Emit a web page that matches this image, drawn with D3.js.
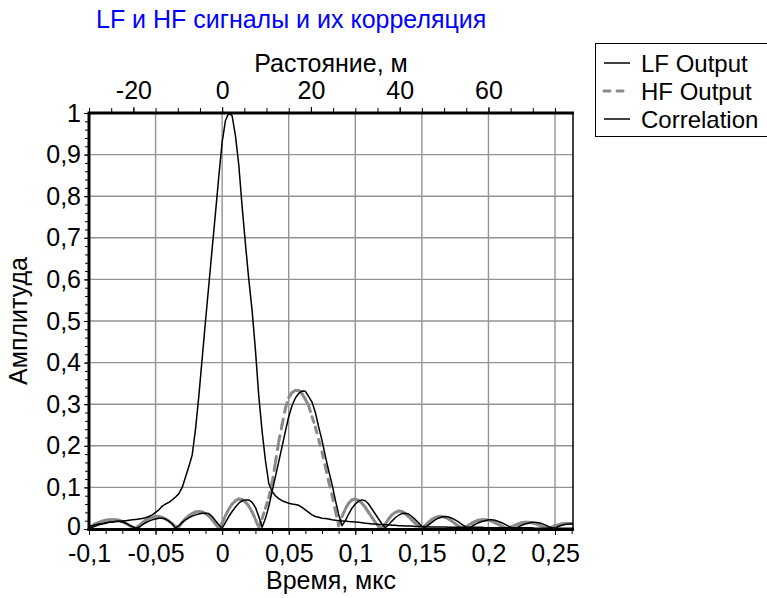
<!DOCTYPE html>
<html>
<head>
<meta charset="utf-8">
<script src="https://cdn.jsdelivr.net/npm/d3@7"></script>
<style>
  body { margin: 0; background: #fff; }
  svg { display: block; }
  text { font-family: "Liberation Sans", Arial, sans-serif; fill: #000; }
</style>
</head>
<body>
<svg id="chart" width="767" height="598"></svg>
<script>
// Sample times, microseconds
const time = [
  -0.1, -0.0975, -0.095, -0.0925, -0.09, -0.0875, -0.085, -0.0825, -0.08, -0.0775,
  -0.075, -0.0725, -0.07, -0.0675, -0.065, -0.0625, -0.06, -0.0575, -0.055, -0.0525,
  -0.05, -0.0475, -0.045, -0.0425, -0.04, -0.0375, -0.035, -0.0325, -0.03, -0.0275,
  -0.025, -0.0225, -0.02, -0.0175, -0.015, -0.0125, -0.01, -0.0075, -0.005, -0.0025,
  0, 0.0025, 0.005, 0.0075, 0.01, 0.0125, 0.015, 0.0175, 0.02, 0.0225,
  0.025, 0.0275, 0.03, 0.0325, 0.035, 0.0375, 0.04, 0.0425, 0.045, 0.0475,
  0.05, 0.0525, 0.055, 0.0575, 0.06, 0.0625, 0.065, 0.0675, 0.07, 0.0725,
  0.075, 0.0775, 0.08, 0.0825, 0.085, 0.0875, 0.09, 0.0925, 0.095, 0.0975,
  0.1, 0.1025, 0.105, 0.1075, 0.11, 0.1125, 0.115, 0.1175, 0.12, 0.1225,
  0.125, 0.1275, 0.13, 0.1325, 0.135, 0.1375, 0.14, 0.1425, 0.145, 0.1475,
  0.15, 0.1525, 0.155, 0.1575, 0.16, 0.1625, 0.165, 0.1675, 0.17, 0.1725,
  0.175, 0.1775, 0.18, 0.1825, 0.185, 0.1875, 0.19, 0.1925, 0.195, 0.1975,
  0.2, 0.2025, 0.205, 0.2075, 0.21, 0.2125, 0.215, 0.2175, 0.22, 0.2225,
  0.225, 0.2275, 0.23, 0.2325, 0.235, 0.2375, 0.24, 0.2425, 0.245, 0.2475,
  0.25, 0.2525, 0.255, 0.2575, 0.26, 0.2625, 0.265
];

const lfOutput = [
  0.006, 0.008, 0.01, 0.012, 0.013, 0.015, 0.016, 0.017, 0.018, 0.019,
  0.019, 0.02, 0.021, 0.022, 0.023, 0.024, 0.025, 0.027, 0.03, 0.034,
  0.04, 0.046, 0.055, 0.06, 0.064, 0.07, 0.077, 0.085, 0.1, 0.125,
  0.15, 0.178, 0.24, 0.32, 0.41, 0.5, 0.587, 0.674, 0.76, 0.848,
  0.93, 0.982, 1.0, 0.993, 0.945, 0.875, 0.775, 0.685, 0.6, 0.525,
  0.43, 0.32, 0.235, 0.165, 0.11, 0.09, 0.08, 0.073, 0.068, 0.065,
  0.062, 0.06, 0.059, 0.057, 0.052, 0.046, 0.04, 0.034, 0.03, 0.028,
  0.026, 0.025, 0.024, 0.022, 0.021, 0.02, 0.019, 0.019, 0.018, 0.0175,
  0.017, 0.016, 0.015, 0.014, 0.013, 0.012, 0.012, 0.011, 0.011, 0.01,
  0.01, 0.009, 0.009, 0.008, 0.008, 0.007, 0.007, 0.007, 0.006, 0.006,
  0.006, 0.006, 0.005, 0.005, 0.005, 0.005, 0.005, 0.005, 0.004, 0.004,
  0.004, 0.004, 0.004, 0.004, 0.004, 0.004, 0.004, 0.004, 0.004, 0.003,
  0.003, 0.003, 0.003, 0.003, 0.003, 0.003, 0.003, 0.003, 0.003, 0.003,
  0.003, 0.003, 0.003, 0.003, 0.002, 0.002, 0.002, 0.002, 0.002, 0.002,
  0.002, 0.002, 0.002, 0.002, 0.002, 0.002, 0.002
];

const hfOutput = [
  0.003, 0.008, 0.013, 0.016, 0.019, 0.021, 0.022, 0.022, 0.022, 0.021,
  0.018, 0.014, 0.009, 0.004, 0.002, 0.008, 0.015, 0.021, 0.025, 0.028,
  0.03, 0.03, 0.028, 0.024, 0.019, 0.013, 0.005, 0.006, 0.016, 0.025,
  0.032, 0.037, 0.041, 0.042, 0.041, 0.037, 0.031, 0.022, 0.012, 0.002,
  0.014, 0.032, 0.048, 0.06, 0.068, 0.072, 0.071, 0.065, 0.055, 0.041,
  0.023, 0.003, 0.025, 0.05, 0.075, 0.11, 0.16, 0.21, 0.25, 0.29,
  0.316, 0.328, 0.333, 0.333, 0.325, 0.312, 0.296, 0.27, 0.245, 0.215,
  0.185, 0.15, 0.115, 0.082, 0.045, 0.008, 0.03, 0.048, 0.062, 0.07,
  0.072, 0.069, 0.062, 0.052, 0.04, 0.028, 0.016, 0.006, 0.003, 0.012,
  0.024, 0.034, 0.04, 0.043, 0.042, 0.037, 0.03, 0.022, 0.014, 0.007,
  0.001, 0.008, 0.016, 0.023, 0.027, 0.03, 0.03, 0.028, 0.024, 0.019,
  0.013, 0.007, 0.002, 0.003, 0.009, 0.014, 0.018, 0.021, 0.022, 0.022,
  0.021, 0.019, 0.015, 0.011, 0.007, 0.003, 0.001, 0.005, 0.009, 0.012,
  0.015, 0.016, 0.016, 0.015, 0.013, 0.01, 0.007, 0.004, 0.001, 0.004,
  0.008, 0.01, 0.012, 0.013, 0.013, 0.013, 0.012
];

const correlation = [
  0.001, 0.004, 0.007, 0.01, 0.012, 0.014, 0.016, 0.017, 0.018, 0.018,
  0.017, 0.014, 0.01, 0.006, 0.002, 0.004, 0.01, 0.015, 0.019, 0.022,
  0.024, 0.026, 0.026, 0.024, 0.019, 0.012, 0.002, 0.008, 0.016, 0.022,
  0.027, 0.031, 0.034, 0.036, 0.038, 0.038, 0.037, 0.03, 0.02, 0.01,
  0.002, 0.016, 0.03, 0.042, 0.053, 0.062, 0.068, 0.07, 0.07, 0.064,
  0.052, 0.03, 0.004, 0.025, 0.054, 0.09, 0.126, 0.162, 0.198, 0.235,
  0.27, 0.297, 0.315, 0.326, 0.332, 0.331, 0.318, 0.305, 0.28, 0.245,
  0.213, 0.175, 0.14, 0.108, 0.07, 0.035, 0.008, 0.02, 0.036, 0.05,
  0.06, 0.067, 0.07, 0.068, 0.06, 0.048, 0.036, 0.024, 0.012, 0.003,
  0.01, 0.019, 0.027, 0.033, 0.037, 0.038, 0.036, 0.03, 0.023, 0.015,
  0.006, 0.003, 0.01, 0.016, 0.022, 0.026, 0.029, 0.03, 0.029, 0.026,
  0.022, 0.017, 0.011, 0.006, 0.001, 0.006, 0.011, 0.015, 0.018, 0.02,
  0.022, 0.022, 0.021, 0.018, 0.015, 0.011, 0.007, 0.003, 0.001, 0.005,
  0.009, 0.012, 0.014, 0.016, 0.016, 0.015, 0.013, 0.01, 0.006, 0.003,
  0.002, 0.006, 0.009, 0.011, 0.012, 0.012, 0.012
];

const seriesNames = ["LF Output", "HF Output", "Correlation"];
const timeTicks = [-0.1, -0.05, 0, 0.05, 0.1, 0.15, 0.2, 0.25];
const distanceTicks = [-20, 0, 20, 40, 60];
const amplitudeTicks = [0, 0.1, 0.2, 0.3, 0.4, 0.5, 0.6, 0.7, 0.8, 0.9, 1];

const titleText = "LF и HF сигналы и их корреляция";
const topAxisTitle = "Растояние, м";
const bottomAxisTitle = "Время, мкс";
const leftAxisTitle = "Амплитуда";

const timeDomain = [-0.1, 0.2635];
const metresPerMicrosecond = 300;   // light travel: distance scale on top axis

// ---- layout ----
const plot = { left: 89, right: 573, top: 113, bottom: 529 };
const FONT = 25;

const svg = d3.select("#chart");

const x = d3.scaleLinear().domain(timeDomain).range([plot.left, plot.right]);
const xDist = d3.scaleLinear()
  .domain(timeDomain.map(t => t * metresPerMicrosecond))
  .range([plot.left, plot.right]);
const y = d3.scaleLinear().domain([0, 1]).range([plot.bottom, plot.top]);

const commaFmt = d => String(d).replace(".", ",");

// ---- grid ----
const grid = svg.append("g").attr("stroke", "#939393").attr("stroke-width", 1.4);
grid.selectAll("line.v").data(timeTicks.filter(t => t > timeDomain[0])).join("line")
  .attr("x1", d => x(d)).attr("x2", d => x(d))
  .attr("y1", plot.top).attr("y2", plot.bottom);
grid.selectAll("line.h").data(amplitudeTicks.filter(a => a > 0 && a < 1)).join("line")
  .attr("x1", plot.left).attr("x2", plot.right)
  .attr("y1", d => y(d)).attr("y2", d => y(d));

// ---- curves ----
svg.append("defs").append("clipPath").attr("id", "plotClip")
  .append("rect")
  .attr("x", plot.left).attr("y", plot.top - 2)
  .attr("width", plot.right - plot.left).attr("height", plot.bottom - plot.top + 4);

const curves = svg.append("g").attr("clip-path", "url(#plotClip)");
const pts = vals => time.map((t, i) => [t, vals[i]]);
const line = d3.line().x(d => x(d[0])).y(d => y(d[1]));

// HF output: each sample-to-sample segment carries its own dash pattern
const hfSegs = d3.pairs(pts(hfOutput));
curves.append("g")
  .attr("fill", "none").attr("stroke", "#8a8a8a").attr("stroke-width", 3)
  .attr("stroke-linecap", "round").attr("stroke-dasharray", "6,7")
  .selectAll("path").data(hfSegs).join("path")
  .attr("d", d => line(d));

curves.append("path").datum(pts(correlation))
  .attr("fill", "none").attr("stroke", "#000").attr("stroke-width", 1.5)
  .attr("stroke-linejoin", "round")
  .attr("d", line);

curves.append("path").datum(pts(lfOutput))
  .attr("fill", "none").attr("stroke", "#000").attr("stroke-width", 1.5)
  .attr("stroke-linejoin", "round")
  .attr("d", line);

// ---- axes ----
function styleAxis(g) {
  g.select(".domain").remove();
  g.selectAll(".tick line").attr("stroke", "#000").attr("stroke-width", 1);
  g.selectAll(".tick text").attr("font-size", FONT)
    .attr("font-family", "Liberation Sans, Arial, sans-serif").attr("fill", "#000");
}

// bottom (time)
const minorTime = d3.range(-0.1, 0.2636, 0.0125);
svg.append("g").attr("transform", `translate(0,${plot.bottom})`)
  .call(d3.axisBottom(x).tickValues(minorTime).tickSize(5).tickFormat(""))
  .call(styleAxis);
svg.append("g").attr("transform", `translate(0,${plot.bottom})`)
  .call(d3.axisBottom(x).tickValues(timeTicks).tickSize(6).tickPadding(9).tickFormat(commaFmt))
  .call(styleAxis);

// top (distance)
const minorDist = d3.range(-30, 79.1, 5);
svg.append("g").attr("transform", `translate(0,${plot.top})`)
  .call(d3.axisTop(xDist).tickValues(minorDist).tickSize(5).tickFormat(""))
  .call(styleAxis);
svg.append("g").attr("transform", `translate(0,${plot.top})`)
  .call(d3.axisTop(xDist).tickValues(distanceTicks).tickSize(6).tickPadding(8).tickFormat(d => String(d)))
  .call(styleAxis);

// left (amplitude)
const minorAmp = d3.range(0, 1.001, 0.02);
svg.append("g").attr("transform", `translate(${plot.left},0)`)
  .call(d3.axisLeft(y).tickValues(minorAmp).tickSize(4).tickFormat(""))
  .call(styleAxis);
const leftAxis = svg.append("g").attr("transform", `translate(${plot.left},0)`)
  .call(d3.axisLeft(y).tickValues(amplitudeTicks).tickSize(5).tickPadding(3).tickFormat(commaFmt))
  .call(styleAxis);
// lift the zero label a little so it clears the corner time label
leftAxis.selectAll(".tick text").filter(d => d === 0).attr("dy", "0.2em");

// frame
const frame = svg.append("g").attr("stroke", "#000").attr("fill", "none");
frame.append("line").attr("x1", plot.right).attr("x2", plot.right)
  .attr("y1", plot.top).attr("y2", plot.bottom).attr("stroke-width", 1.5);
frame.append("line").attr("x1", plot.left - 1.5).attr("x2", plot.right + 1)
  .attr("y1", plot.top).attr("y2", plot.top).attr("stroke-width", 3);
frame.append("line").attr("x1", plot.left - 1.5).attr("x2", plot.right + 1)
  .attr("y1", plot.bottom + 0.5).attr("y2", plot.bottom + 0.5).attr("stroke-width", 3);
frame.append("line").attr("x1", plot.left).attr("x2", plot.left)
  .attr("y1", plot.top).attr("y2", plot.bottom + 2).attr("stroke-width", 3);

// ---- titles ----
svg.append("text").attr("x", 96).attr("y", 28)
  .attr("font-size", FONT).style("fill", "#0000ff").text(titleText);
svg.append("text").attr("x", (plot.left + plot.right) / 2).attr("y", 72)
  .attr("text-anchor", "middle").attr("font-size", FONT).text(topAxisTitle);
svg.append("text").attr("x", (plot.left + plot.right) / 2).attr("y", 589)
  .attr("text-anchor", "middle").attr("font-size", FONT).text(bottomAxisTitle);
svg.append("text")
  .attr("transform", `translate(27,${(plot.top + plot.bottom) / 2}) rotate(-90)`)
  .attr("text-anchor", "middle").attr("font-size", FONT).text(leftAxisTitle);

// ---- legend ----
const legend = svg.append("g");
legend.append("rect").attr("x", 595.5).attr("y", 43.5).attr("width", 180).attr("height", 93)
  .attr("fill", "#fff").attr("stroke", "#000").attr("stroke-width", 1);
const legendStyles = [
  { stroke: "#000", width: 1.5, dash: null },
  { stroke: "#8a8a8a", width: 3, dash: "6,7" },
  { stroke: "#000", width: 1.5, dash: null }
];
seriesNames.forEach((name, i) => {
  const cy = 63 + i * 28;
  const st = legendStyles[i];
  legend.append("line").attr("x1", 604).attr("x2", 630).attr("y1", cy).attr("y2", cy)
    .attr("stroke", st.stroke).attr("stroke-width", st.width)
    .attr("stroke-linecap", st.dash ? "round" : "butt")
    .attr("stroke-dasharray", st.dash);
  legend.append("text").attr("x", 641).attr("y", cy).attr("dy", "0.36em")
    .attr("font-size", 24).text(name);
});
</script>
</body>
</html>
